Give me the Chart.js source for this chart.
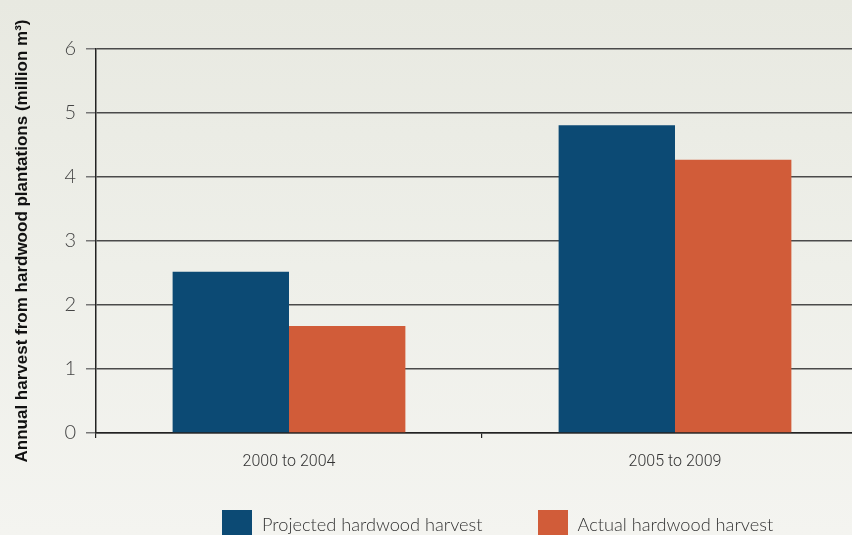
<!DOCTYPE html>
<html>
<head>
<meta charset="utf-8">
<script src="https://cdn.jsdelivr.net/npm/chart.js@4.4.0/dist/chart.umd.min.js"></script>
<style>
  html, body { margin: 0; padding: 0; }
  body {
    width: 852px; height: 535px; overflow: hidden; position: relative;
    background: linear-gradient(to bottom, #e8e9e1 0%, #eeefe9 50%, #f4f4f0 100%);
  }
  #wrap { position: absolute; left: 0; top: 0; width: 868px; height: 535px; }
  #legend { position: absolute; top: 510px; left: 222px; display: flex; font-family: Lato, sans-serif; font-weight: 300; font-size: 18.2px; color: #333; }
  .item { display: flex; align-items: flex-start; margin-right: 55px; }
  .box { width: 30px; height: 26px; margin-right: 10px; }
  .item span { line-height: 26px; padding-top: 1px; }
</style>
</head>
<body>
<div id="wrap"><canvas id="chart" width="868" height="535"></canvas></div>
<div id="legend"></div>
<script>
// chart values
const periods = ['2000 to 2004', '2005 to 2009'];
const seriesNames = ['Projected hardwood harvest', 'Actual hardwood harvest'];
const projected = [2.52, 4.81];
const actual = [1.67, 4.27];
const seriesColors = ['#0c4a74', '#d15c39'];
const yTitle = 'Annual harvest from hardwood plantations (million m\u00b3)';

function buildLegend() {
    const legend = document.getElementById('legend');
    seriesNames.forEach((name, i) => {
        const item = document.createElement('div');
        item.className = 'item';
        item.innerHTML = '<div class="box" style="background:' + seriesColors[i] + '"></div><span>' + name + '</span>';
        legend.appendChild(item);
    });
}

function createChart() {
    const ctx = document.getElementById('chart').getContext('2d');
    new Chart(ctx, {
        type: 'bar',
        data: {
            labels: periods,
            datasets: [
                { label: seriesNames[0], data: projected, backgroundColor: seriesColors[0] },
                { label: seriesNames[1], data: actual, backgroundColor: seriesColors[1] }
            ]
        },
        options: {
            responsive: false,
            animation: false,
            layout: { padding: { top: 49, left: 0, right: 0, bottom: 0 } },
            datasets: { bar: { categoryPercentage: 0.603, barPercentage: 1.0 } },
            plugins: { legend: { display: false }, tooltip: { enabled: false } },
            scales: {
                x: {
                    grid: { display: true, drawOnChartArea: false, tickLength: 5, color: '#222', lineWidth: 1.2 },
                    border: { color: '#222', width: 1.5 },
                    ticks: { color: '#333', padding: 14, font: { family: 'Roboto', size: 16, weight: 300 } },
                    afterFit: scale => { scale.height = 102; }
                },
                y: {
                    min: 0,
                    max: 6,
                    ticks: { stepSize: 1, color: '#444', padding: 10, font: { family: 'Lato', size: 20, weight: 300 } },
                    grid: { color: '#4a4a4a', lineWidth: 1.5, tickLength: 10, tickColor: '#777' },
                    border: { color: '#222', width: 1.5 },
                    title: {
                        display: true,
                        text: yTitle,
                        color: '#111',
                        padding: { top: 12, bottom: 0 },
                        font: { family: 'Liberation Sans', size: 17, weight: 'bold' }
                    },
                    afterFit: scale => { scale.width = 96; }
                }
            }
        }
    });
}

buildLegend();
createChart();
</script>
</body>
</html>
